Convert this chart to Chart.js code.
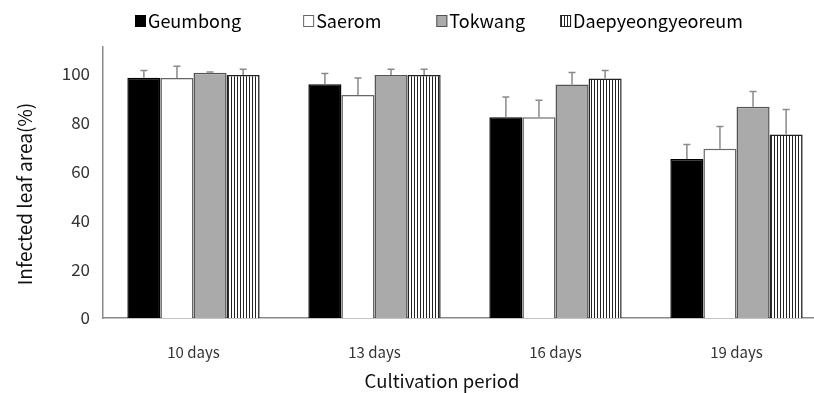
<!DOCTYPE html>
<html><head><meta charset="utf-8">
<script src="https://cdn.jsdelivr.net/npm/chart.js@4.4.1/dist/chart.umd.min.js"></script>
<style>
html,body{margin:0;padding:0;background:#fff;overflow:hidden;width:814px;height:393px;}
#wrap{position:absolute;left:0;top:0;width:840px;height:393px;}
</style></head><body>
<div id="wrap"><canvas id="c" width="840" height="393"></canvas></div>
<script>
const categories = ['10 days', '13 days', '16 days', '19 days'];
const seriesNames = ['Geumbong', 'Saerom', 'Tokwang', 'Daepyeongyeoreum'];
const geumbong = [98.4, 95.7, 82.2, 65.1];
const saerom = [98.3, 91.3, 82.2, 69.3];
const tokwang = [100.5, 99.5, 95.6, 86.5];
const daepyeong = [99.5, 99.5, 98.1, 75.2];
const geumbongErr = [3.0, 4.4, 8.3, 6.0];
const saeromErr = [4.8, 7.0, 7.0, 9.1];
const tokwangErr = [0.3, 2.4, 5.0, 6.3];
const daepyeongErr = [2.4, 2.4, 3.3, 10.2];
const yTicks = [0, 20, 40, 60, 80, 100];
const xTitle = 'Cultivation period';
const yTitle = 'Infected leaf area(%)';

const FONT = "'Noto Sans CJK KR', 'Noto Sans', sans-serif";

function stripePattern() {
  const p = document.createElement('canvas');
  p.width = 3; p.height = 4;
  const g = p.getContext('2d');
  g.fillStyle = '#fff'; g.fillRect(0, 0, 3, 4);
  g.fillStyle = '#222'; g.fillRect(0, 0, 1, 4);
  return document.getElementById('c').getContext('2d').createPattern(p, 'repeat');
}
const stripes = stripePattern();

const errors = [geumbongErr, saeromErr, tokwangErr, daepyeongErr];

const errorBarPlugin = {
  id: 'errorBars',
  afterDatasetsDraw(chart) {
    const ctx = chart.ctx;
    const y = chart.scales.y;
    ctx.save();
    ctx.strokeStyle = '#8a8a8a';
    ctx.lineWidth = 1.5;
    chart.data.datasets.forEach((ds, di) => {
      const meta = chart.getDatasetMeta(di);
      meta.data.forEach((bar, i) => {
        const v = ds.data[i];
        const top = y.getPixelForValue(v);
        const e = y.getPixelForValue(v + errors[di][i]);
        ctx.beginPath();
        ctx.moveTo(bar.x, top);
        ctx.lineTo(bar.x, e);
        ctx.moveTo(bar.x - 3.5, e);
        ctx.lineTo(bar.x + 3.5, e);
        ctx.stroke();
      });
    });
    ctx.restore();
  }
};

const legendAndTitlesPlugin = {
  id: 'customLegend',
  afterDraw(chart) {
    const ctx = chart.ctx;
    ctx.save();
    ctx.font = "18px " + FONT;
    ctx.textBaseline = 'middle';
    const gaps = [62, 55, 35];
    let x = 135;
    const cy = 21;
    chart.data.datasets.forEach((ds, i) => {
      ctx.fillStyle = ds.backgroundColor;
      ctx.fillRect(x, cy - 6, 11, 12);
      ctx.strokeStyle = ds.borderColor;
      ctx.lineWidth = 1;
      ctx.strokeRect(x + 0.5, cy - 5.5, 10, 11);
      ctx.fillStyle = '#000';
      ctx.fillText(ds.label, x + 13, cy);
      x += 13 + ctx.measureText(ds.label).width + (gaps[i] || 0);
    });
    // axis titles
    ctx.fillStyle = '#111';
    ctx.textAlign = 'center';
    ctx.font = "18.5px " + FONT;
    ctx.fillText(xTitle, 442, 381);
    ctx.translate(25, 194);
    ctx.rotate(-Math.PI / 2);
    ctx.font = "19px " + FONT;
    ctx.fillText(yTitle, 0, 0);
    ctx.restore();
  }
};

new Chart(document.getElementById('c'), {
  type: 'bar',
  data: {
    labels: categories,
    datasets: [
      { label: seriesNames[0], data: geumbong, backgroundColor: '#000', borderColor: '#000', borderWidth: 1.5 },
      { label: seriesNames[1], data: saerom, backgroundColor: '#fff', borderColor: '#666', borderWidth: 1.5 },
      { label: seriesNames[2], data: tokwang, backgroundColor: '#aaaaaa', borderColor: '#555', borderWidth: 1.5 },
      { label: seriesNames[3], data: daepyeong, backgroundColor: stripes, borderColor: '#222', borderWidth: 1.5 }
    ]
  },
  options: {
    responsive: false,
    animation: false,
    devicePixelRatio: 1,
    layout: { padding: { top: 47, right: 13, left: 0, bottom: 0 } },
    datasets: { bar: { categoryPercentage: 0.731, barPercentage: 1.0 } },
    plugins: { legend: { display: false }, tooltip: { enabled: false } },
    scales: {
      x: {
        afterFit(scale) { scale.height = 75; },
        grid: { display: false, drawTicks: false },
        border: { color: '#8a8a8a', width: 1.5 },
        ticks: { color: '#333', font: { family: FONT, size: 15 }, padding: 25, maxRotation: 0 },
        title: { display: false }
      },
      y: {
        min: 0, max: 111,
        afterFit(scale) { scale.width = 103; },
        afterBuildTicks(scale) { scale.ticks = yTicks.map(v => ({ value: v })); },
        grid: { display: false, drawTicks: false },
        border: { color: '#8a8a8a', width: 1.5 },
        ticks: { color: '#333', font: { family: FONT, size: 17 }, padding: 13 },
        title: { display: false }
      }
    }
  },
  plugins: [errorBarPlugin, legendAndTitlesPlugin]
});
</script>
</body></html>
